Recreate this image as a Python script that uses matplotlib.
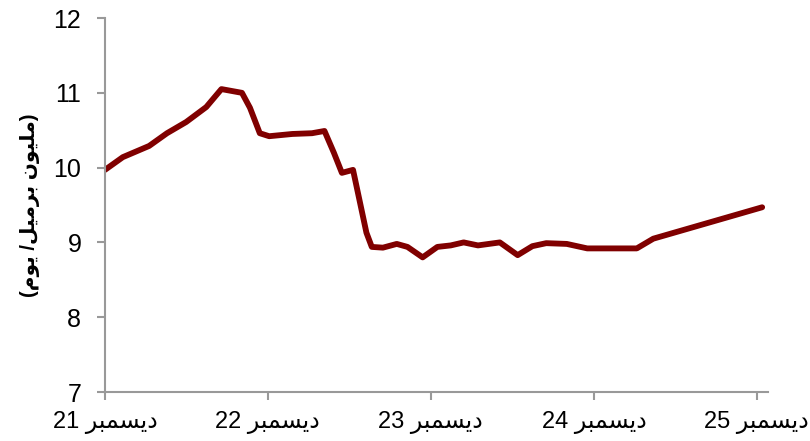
import matplotlib
matplotlib.use("Agg")
import matplotlib.pyplot as plt
import pandas as pd

# Arabic words written in presentation forms, visual (left-to-right) order
DEC = "\uFEAE\uFE92\uFEE4\uFEB4\uFEF3\uFEA9"          # ديسمبر
YAWM = "\uFEE1\uFEEE\uFEF3"                           # يوم
BARMIL = "\uFEDE\uFEF4\uFEE3\uFEAE\uFE91"             # برميل
MILYUN = "\uFEE5\uFEEE\uFEF4\uFEE0\uFEE3"             # مليون

# data
dates = ["2021-12-01", "2022-01-10", "2022-03-10", "2022-04-19", "2022-06-01",
         "2022-07-16", "2022-08-19", "2022-10-04", "2022-10-22", "2022-11-13",
         "2022-12-04", "2023-01-25", "2023-03-10", "2023-04-07", "2023-04-28",
         "2023-05-16", "2023-06-10", "2023-07-10", "2023-07-22", "2023-08-16",
         "2023-09-16", "2023-10-10", "2023-11-13", "2023-12-16", "2024-01-15",
         "2024-02-13", "2024-03-16", "2024-05-04", "2024-06-13", "2024-07-16",
         "2024-08-16", "2024-10-01", "2024-11-16", "2025-03-07", "2025-04-13",
         "2025-12-13"]
values = [9.97, 10.14, 10.29, 10.46, 10.61,
          10.81, 11.05, 11.00, 10.80, 10.46,
          10.42, 10.45, 10.46, 10.49, 10.20,
          9.93, 9.97, 9.13, 8.94, 8.93,
          8.98, 8.94, 8.80, 8.94, 8.96,
          9.00, 8.96, 9.00, 8.83, 8.95,
          8.99, 8.98, 8.92, 8.92, 9.05,
          9.47]

tick_dates = ["2021-12-01", "2022-12-01", "2023-12-01", "2024-12-01", "2025-12-01"]
tick_labels = ["21 " + DEC, "22 " + DEC, "23 " + DEC, "24 " + DEC, "25 " + DEC]
ylabel = "(" + YAWM + " /" + BARMIL + " " + MILYUN + ")"

plt.rcParams['font.family'] = ['Liberation Sans', 'DejaVu Sans']

fig = plt.figure(figsize=(8.1, 4.41), dpi=100)
ax = fig.add_axes([0.1296, 0.1111, 0.8185, 0.848])

ax.plot(pd.to_datetime(dates), values, color="#800000", lw=4.2,
        solid_joinstyle="round", solid_capstyle="round")

ax.set_ylim(7, 12)
ax.set_yticks([7, 8, 9, 10, 11, 12])
ax.set_xlim(pd.Timestamp("2021-12-01"), pd.Timestamp("2025-12-26"))
ax.set_xticks(pd.to_datetime(tick_dates))
ax.set_xticklabels(tick_labels)

for s in ["top", "right"]:
    ax.spines[s].set_visible(False)
for s in ["left", "bottom"]:
    ax.spines[s].set_color("#999999")
    ax.spines[s].set_linewidth(1.5)
ax.tick_params(axis="both", colors="#999999", width=1.5, length=6,
               labelcolor="black")
ax.tick_params(axis="y", labelsize=18, pad=11)
ax.tick_params(axis="x", labelsize=17, pad=8)

ax.set_ylabel(ylabel, fontsize=14.5, fontweight="bold", labelpad=10)

fig.savefig("out.png", dpi=100)
